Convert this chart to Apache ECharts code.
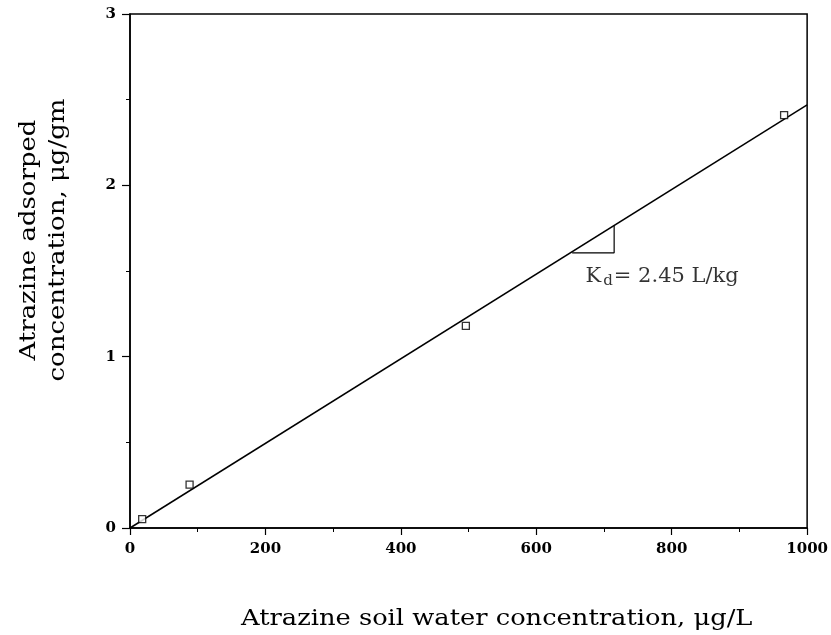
<!DOCTYPE html>
<html>
<head>
<meta charset="utf-8">
<script src="https://cdn.jsdelivr.net/npm/echarts@6/dist/echarts.min.js"></script>
<style>
  html, body { margin: 0; padding: 0; background: #fff; }
  #chart { width: 831px; height: 635px; }
</style>
</head>
<body>
<div id="chart"></div>
<script>
// measured points (soil water conc µg/L, adsorbed µg/gm)
const waterConc = [18, 88, 496, 966];
const adsorbed = [0.052, 0.253, 1.18, 2.41];

// fitted line Kd = 2.45 L/kg
const fitX = [0, 1000];
const fitY = [0, 2.47];

// slope triangle
const triX = [653, 715, 715];
const triY = [1.606, 1.606, 1.766];

// where the Kd note sits
const noteAt = [672, 1.465];

const xTicks = [0, 200, 400, 600, 800, 1000];
const yTicks = [0, 1, 2, 3];

const serif = '"DejaVu Serif", "Liberation Serif", serif';

const chart = echarts.init(document.getElementById('chart'));

chart.setOption({
  animation: false,
  backgroundColor: '#fff',
  grid: {
    left: 130, right: 23, top: 14, bottom: 107,
    show: true, borderColor: '#000', borderWidth: 1.5
  },
  xAxis: {
    type: 'value', min: 0, max: 1000, interval: 200,
    axisLine: { show: true, lineStyle: { color: '#000', width: 1.5 } },
    axisTick: { show: true, inside: false, length: 7, lineStyle: { color: '#000', width: 1.2 } },
    minorTick: { show: true, splitNumber: 2, length: 4, lineStyle: { color: '#000', width: 1 } },
    splitLine: { show: false },
    axisLabel: {
      margin: 14, color: '#000', fontFamily: serif, fontWeight: 'bold', fontSize: 15,
      formatter: v => xTicks.includes(v) ? String(v) : ''
    }
  },
  yAxis: {
    type: 'value', min: 0, max: 3, interval: 1,
    axisLine: { show: true, lineStyle: { color: '#000', width: 1.5 } },
    axisTick: { show: true, inside: false, length: 8, lineStyle: { color: '#000', width: 1.2 } },
    minorTick: { show: true, splitNumber: 2, length: 4, lineStyle: { color: '#000', width: 1 } },
    splitLine: { show: false },
    axisLabel: {
      margin: 14, color: '#000', fontFamily: serif, fontWeight: 'bold', fontSize: 15,
      formatter: v => yTicks.includes(v) ? String(v) : ''
    }
  },
  graphic: [
    {
      type: 'text', x: 241, y: 608, scaleX: 1.17,
      style: {
        text: 'Atrazine soil water concentration, μg/L',
        font: '22px ' + serif, fill: '#000'
      }
    },
    {
      type: 'text', x: 44, y: 240, rotation: Math.PI / 2, scaleX: 1.18,
      style: {
        text: 'Atrazine adsorped\nconcentration, μg/gm',
        font: '22px ' + serif, fill: '#000',
        align: 'center', verticalAlign: 'middle', lineHeight: 29
      }
    }
  ],
  series: [
    {
      type: 'line',
      data: fitX.map((x, i) => [x, fitY[i]]),
      symbol: 'none',
      lineStyle: { color: '#000', width: 1.5 },
      z: 2
    },
    {
      type: 'line',
      data: triX.map((x, i) => [x, triY[i]]),
      symbol: 'none',
      lineStyle: { color: '#000', width: 1.2 },
      z: 2
    },
    {
      type: 'scatter',
      data: waterConc.map((x, i) => [x, adsorbed[i]]),
      symbol: 'rect', symbolSize: 7,
      itemStyle: { color: '#fff', borderColor: '#000', borderWidth: 1.3 },
      z: 3
    },
    {
      type: 'scatter',
      data: [noteAt],
      symbol: 'circle', symbolSize: 1,
      itemStyle: { color: 'rgba(0,0,0,0)' },
      silent: true,
      label: {
        show: true, position: 'right', distance: 0,
        formatter: '{k|K}{d|d}{t|= 2.45 L/kg}',
        rich: {
          k: { fontFamily: serif, fontSize: 21, color: '#000' },
          d: { fontFamily: serif, fontSize: 15, color: '#000', verticalAlign: 'bottom', padding: [9, 1, 0, 2] },
          t: { fontFamily: serif, fontSize: 21, color: '#000' }
        }
      }
    }
  ]
});
</script>
</body>
</html>
